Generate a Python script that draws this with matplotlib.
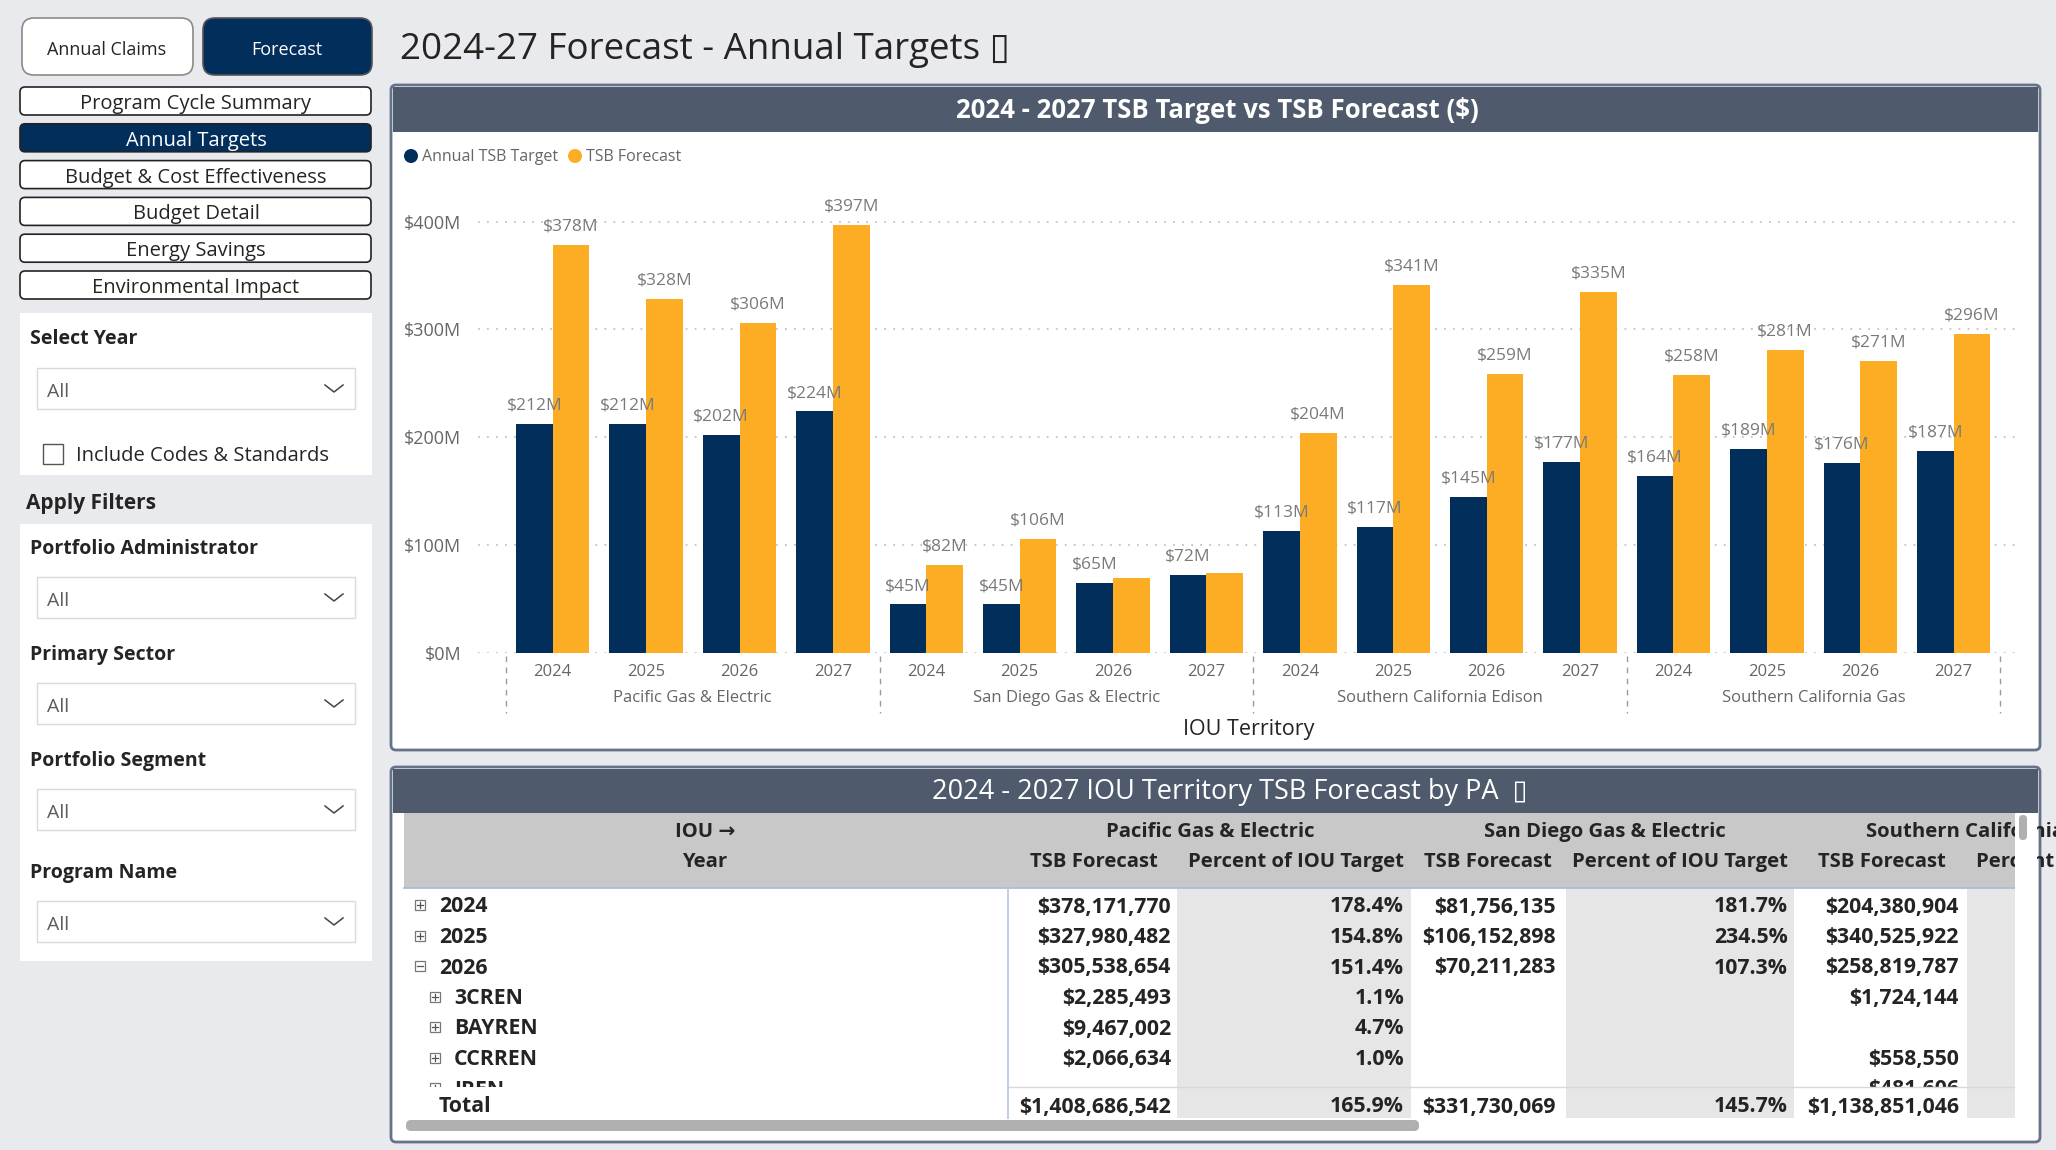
import matplotlib
matplotlib.use('Agg')
import matplotlib.pyplot as plt
from matplotlib.patches import FancyBboxPatch, Rectangle, Circle
import matplotlib.transforms as mtransforms

plt.rcParams['font.family'] = ['Open Sans', 'DejaVu Sans']

# ---------------- data ----------------
iou_names = ["Pacific Gas & Electric", "San Diego Gas & Electric",
             "Southern California Edison", "Southern California Gas"]
years = ["2024", "2025", "2026", "2027"]
annual_target = [212, 212, 202, 224, 45, 45, 65, 72, 113, 117, 145, 177, 164, 189, 176, 187]
tsb_forecast = [378, 328, 306, 397, 82, 106, 70, 74, 204, 341, 259, 335, 258, 281, 271, 296]
y_ticks = [0, 100, 200, 300, 400]

nav_items = ["Program Cycle Summary", "Annual Targets", "Budget & Cost Effectiveness",
             "Budget Detail", "Energy Savings", "Environmental Impact"]
filter_names = ["Portfolio Administrator", "Primary Sector", "Portfolio Segment", "Program Name"]

table_rows = ["2024", "2025", "2026", "3CREN", "BAYREN", "CCRREN", "IREN"]
row_level = [0, 0, 0, 1, 1, 1, 1]
row_open = [False, False, True, False, False, False, False]
pge_tsb = [378171770, 327980482, 305538654, 2285493, 9467002, 2066634, None]
pge_pct = [178.4, 154.8, 151.4, 1.1, 4.7, 1.0, None]
sdge_tsb = [81756135, 106152898, 70211283, None, None, None, None]
sdge_pct = [181.7, 234.5, 107.3, None, None, None, None]
sce_tsb = [204380904, 340525922, 258819787, 1724144, None, 558550, 481606]
total_pge_tsb, total_pge_pct = 1408686542, 165.9
total_sdge_tsb, total_sdge_pct = 331730069, 145.7
total_sce_tsb = 1138851046

# ---------------- style ----------------
BG = '#E9EAEE'
NAVY = '#022E5B'
ORANGE = '#FDAD23'
SLATE = '#4F5A6C'
BORDER = '#66728A'
GREY_TXT = '#7A7A7A'

W, H = 2056, 1150
fig = plt.figure(figsize=(W / 100, H / 100), dpi=100)
fig.patch.set_facecolor(BG)

bg = fig.add_axes([0, 0, 1, 1])
bg.set_xlim(0, W)
bg.set_ylim(H, 0)
bg.axis('off')
bg.set_zorder(0)


def rbox(x0, y0, x1, y1, fc, ec='none', lw=0, r=0, z=1):
    style = f"round,pad=0,rounding_size={r}" if r else "square,pad=0"
    p = FancyBboxPatch((x0, y0), x1 - x0, y1 - y0, boxstyle=style, fc=fc, ec=ec, lw=lw, zorder=z)
    bg.add_patch(p)
    return p


def txt(x, y, s, **kw):
    kw.setdefault('va', 'center')
    kw.setdefault('zorder', 4)
    return bg.text(x, y + 3, s, **kw)


# ---------------- top buttons & title ----------------
rbox(22, 18, 193, 75, 'white', '#8A8A8A', 1.2, r=12)
txt(107, 47, "Annual Claims", ha='center', fontsize=13, color='#252423')
rbox(203, 18, 372, 75, NAVY, '#555555', 1.2, r=12)
txt(287, 47, "Forecast", ha='center', fontsize=13, color='white')

txt(400, 47, "2024-27 Forecast - Annual Targets \u25AF", ha='left', fontsize=26.5, color='#252423')

for i, name in enumerate(nav_items):
    yc = 101 + i * 36.8
    active = (name == "Annual Targets")
    rbox(20, yc - 14, 371, yc + 14, NAVY if active else 'white', '#222222', 1.2, r=5)
    txt(196, yc, name, ha='center', fontsize=14.5, color='white' if active else '#252423')


# ---------------- slicers ----------------
def dropdown(y0):
    rbox(37, y0, 355, y0 + 41, 'white', '#DADADA', 1.0, z=2)
    txt(47, y0 + 21, "All", ha='left', fontsize=14, color='#605E5C')
    bg.plot([325, 334, 343], [y0 + 17, y0 + 24, y0 + 17], color='#444444', lw=1.1, zorder=4)


rbox(20, 313, 372, 475, 'white')
txt(30, 336, "Select Year", ha='left', fontsize=14, fontweight='bold', color='#252423')
dropdown(368)
rbox(43, 444, 63, 464, 'white', '#555555', 1.0, z=3)
txt(76, 453, "Include Codes & Standards", ha='left', fontsize=14.5, color='#252423')

txt(26, 500, "Apply Filters", ha='left', fontsize=15, fontweight='bold', color='#252423')
rbox(20, 524, 372, 961, 'white')
filter_label_y = [546, 652, 758, 870]
filter_drop_y = [577, 683, 789, 901]
for name, ly, dy in zip(filter_names, filter_label_y, filter_drop_y):
    txt(30, ly, name, ha='left', fontsize=14, fontweight='bold', color='#252423')
    dropdown(dy)

# ---------------- chart panel ----------------
rbox(391, 85, 2040, 750, 'white', BORDER, 2, r=5)
rbox(393, 87, 2038, 132, SLATE, z=2)
txt(1217, 108, "2024 - 2027 TSB Target vs TSB Forecast ($)", ha='center', fontsize=18.5,
    fontweight='bold', color='white')
bg.add_patch(Circle((411, 156), 7, fc=NAVY, zorder=3))
txt(422, 154, "Annual TSB Target", ha='left', fontsize=11.5, color='#666666')
bg.add_patch(Circle((575, 156), 7, fc=ORANGE, zorder=3))
txt(586, 154, "TSB Forecast", ha='left', fontsize=11.5, color='#666666')

AX_L, AX_R, AX_B, AX_T = 478, 2019, 653, 178.5
ax = fig.add_axes([AX_L / W, 1 - AX_B / H, (AX_R - AX_L) / W, (AX_B - AX_T) / H])
ax.set_zorder(1)
ax.patch.set_alpha(0)
n = len(annual_target)
xs = list(range(n))
bw = 0.393
ax.set_xlim(-0.8, n - 0.3)
ax.set_ylim(0, 440)
for s in ax.spines.values():
    s.set_visible(False)
ax.set_yticks(y_ticks)
ax.set_yticklabels([f"${v}M" for v in y_ticks], fontsize=13, color='#666666')
ax.tick_params(axis='y', length=0, pad=12)
ax.yaxis.grid(True, color='#C4C4C4', linestyle=(0, (1, 4)), lw=1.3)
ax.set_axisbelow(True)

ax.bar([x - bw / 2 for x in xs], annual_target, width=bw, color=NAVY, zorder=2)
ax.bar([x + bw / 2 for x in xs], tsb_forecast, width=bw, color=ORANGE, zorder=2)

ax.set_xticks(xs)
ax.set_xticklabels(years * len(iou_names), fontsize=12, color='#666666')
ax.tick_params(axis='x', length=0, pad=8)

ah = AX_B - AX_T


def ay(px):
    return (AX_B - px) / ah


tr = mtransforms.blended_transform_factory(ax.transData, ax.transAxes)
ng = len(years)
for g, name in enumerate(iou_names):
    ax.text(g * ng + (ng - 1) / 2, ay(698), name, transform=tr, ha='center', va='center',
            fontsize=12, color='#666666')
for g in range(len(iou_names) + 1):
    xb = g * ng - 0.5
    ax.plot([xb, xb], [ay(656), ay(713)], transform=tr, clip_on=False,
            color='#9A9A9A', lw=1, linestyle=(0, (4, 4)))
ax.text(0.5, ay(729), "IOU Territory", transform=ax.transAxes, ha='center', va='center',
        fontsize=15.5, color='#252423')

# data labels: target first, forecast label hidden when it collides
fig.canvas.draw()
renderer = fig.canvas.get_renderer()
placed = []
for series, off in ((annual_target, -bw / 2), (tsb_forecast, bw / 2)):
    for x, v in zip(xs, series):
        t = ax.annotate(f"${v}M", (x + off, v), xytext=(0, 7.5), textcoords='offset points',
                        ha='center', va='bottom', fontsize=12.5, color=GREY_TXT, zorder=5)
        bb = t.get_window_extent(renderer)
        if any(bb.overlaps(p) for p in placed):
            t.remove()
        else:
            placed.append(bb)

# ---------------- table panel ----------------
rbox(391, 767, 2040, 1142, 'white', BORDER, 2, r=5)
rbox(393, 769, 2038, 813, SLATE, z=2)
txt(1230, 789, "2024 - 2027 IOU Territory TSB Forecast by PA  \u25AF", ha='center', fontsize=19.5,
    color='white')

TL, TR = 404, 2015
rbox(TL, 813, TR, 888, '#C8C8C8', z=2)
grey_cols = [(1177, 1411), (1566, 1794), (1967, TR)]
for a, b in grey_cols:
    rbox(a, 888, b, 1118, '#E6E6E6', z=2)
bg.plot([TL, TR], [888, 888], color='#A8BEDD', lw=1.3, zorder=3)
bg.plot([1008, 1008], [888, 1118], color='#B6C7E0', lw=1.2, zorder=3)

HDR = dict(fontsize=14.6, fontweight='bold', color='#252423', zorder=3)
txt(705, 829, "IOU \u2192", ha='center', **HDR)
txt(705, 859, "Year", ha='center', **HDR)
txt(1210, 829, iou_names[0], ha='center', **HDR)
txt(1605, 829, iou_names[1], ha='center', **HDR)
txt(1866, 829, iou_names[2], ha='left', **HDR)
col_right = [1171, 1404, 1556, 1788, 1959]
hdr_right = [1158, 1404, 1552, 1788, 1946]
for i, r in enumerate(hdr_right):
    txt(r, 859, "TSB Forecast" if i % 2 == 0 else "Percent of IOU Target", ha='right', **HDR)
txt(1976, 859, "Percent of IOU Target", ha='left', **HDR)

CELL = dict(fontsize=15.3, fontweight='bold', color='#252423', zorder=3)


def fmt_money(v):
    return "" if v is None else f"${v:,.0f}"


def fmt_pct(v):
    return "" if v is None else f"{v:.1f}%"


def expander(x, y, opened):
    bg.add_patch(Rectangle((x - 5, y - 5), 10, 10, fc='white', ec='#777777', lw=0.9, zorder=3))
    bg.plot([x - 3, x + 3], [y, y], color='#555555', lw=0.9, zorder=3)
    if not opened:
        bg.plot([x, x], [y - 3, y + 3], color='#555555', lw=0.9, zorder=3)


row_y0, row_dy = 904, 30.5
for i, name in enumerate(table_rows):
    y = row_y0 + i * row_dy
    lx = 420 + 15 * row_level[i]
    expander(lx, y + 1, row_open[i])
    txt(lx + 19, y, name, ha='left', **CELL)
    vals = [fmt_money(pge_tsb[i]), fmt_pct(pge_pct[i]), fmt_money(sdge_tsb[i]),
            fmt_pct(sdge_pct[i]), fmt_money(sce_tsb[i])]
    for r, s in zip(col_right, vals):
        txt(r, y, s, ha='right', **CELL)

# total row (covers the partially scrolled row)
rbox(TL, 1087, TR, 1118, 'white', z=5)
for a, b in grey_cols:
    rbox(a, 1087, b, 1118, '#E6E6E6', z=5)
bg.plot([1008, TR], [1087, 1087], color='#D8D8D8', lw=1, zorder=6)
bg.plot([1008, 1008], [1087, 1118], color='#B6C7E0', lw=1.2, zorder=6)
TOT = dict(CELL, zorder=7)
txt(439, 1104, "Total", ha='left', **TOT)
totals = [fmt_money(total_pge_tsb), fmt_pct(total_pge_pct), fmt_money(total_sdge_tsb),
          fmt_pct(total_sdge_pct), fmt_money(total_sce_tsb)]
for r, s in zip(col_right, totals):
    txt(r, 1104, s, ha='right', **TOT)

# right edge cover + scrollbars
rbox(TR, 813, 2037, 1119, 'white', z=8)
rbox(2019, 815, 2027, 840, '#B0B0B0', r=4, z=9)
rbox(406, 1120, 1419, 1131, '#B0B0B0', r=5, z=9)

fig.savefig('out.png', dpi=100, facecolor=fig.get_facecolor())
